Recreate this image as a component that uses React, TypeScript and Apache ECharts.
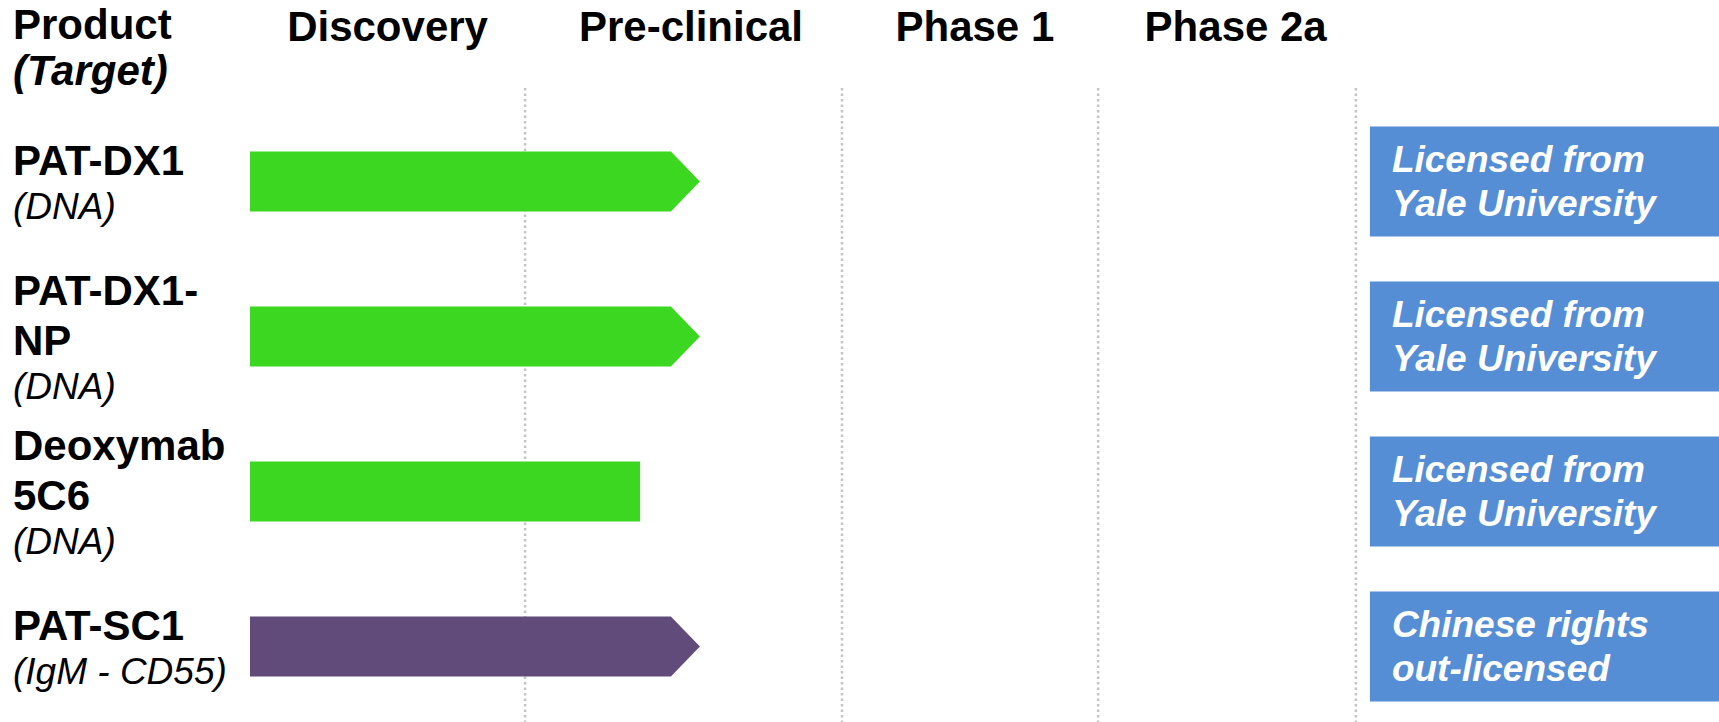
import React, { useEffect, useRef } from "react";
import * as echarts from "echarts";

// ---- data ----
const stages = ["Discovery", "Pre-clinical", "Phase 1", "Phase 2a"];
const stageLabelAt = [0.5, 1.603, 2.635, 3.583];
const stageBoundaries = [1.0, 2.152, 3.083, 4.02];
const axisMax = 5.34;

const headerTitle = "Product";
const headerSub = "(Target)";

const products = ["PAT-DX1", "PAT-DX1-NP", "Deoxymab 5C6", "PAT-SC1"];
const productLines = [["PAT-DX1"], ["PAT-DX1-", "NP"], ["Deoxymab", "5C6"], ["PAT-SC1"]];
const targets = ["(DNA)", "(DNA)", "(DNA)", "(IgM - CD55)"];
const progressStart = [0, 0, 0, 0];
const progressEnd = [1.53, 1.53, 1.418, 1.53];
const ongoing = [1, 1, 0, 1];
const programKind = [0, 0, 0, 1];

const notes = [
  "Licensed from\nYale University",
  "Licensed from\nYale University",
  "Licensed from\nYale University",
  "Chinese rights\nout-licensed",
];
const notesStart = 4.071;

// ---- styles ----
const FONT = '"Liberation Sans", Arial, Helvetica, sans-serif';
const KIND_COLORS = ["#3CD721", "#604B7A"];
const NOTE_COLOR = "#568ED5";
const TIP = 29;

export default function App() {
  const ref = useRef<HTMLDivElement>(null);

  useEffect(() => {
    if (!ref.current) return;
    const chart = echarts.init(ref.current, undefined, { renderer: "svg" });

    const barData = products.map((_, i) => [i, progressStart[i], progressEnd[i], ongoing[i], programKind[i]]);
    const lineData = stageBoundaries.map((v) => [v, 0]);
    const noteData = notes.map((_, i) => [notesStart, i]);

    const option: any = {
      animation: false,
      backgroundColor: "#ffffff",
      textStyle: { fontFamily: FONT },
      grid: { left: 250, right: 0, top: 104, height: 620, outerBoundsMode: "none" },
      xAxis: {
        type: "value",
        position: "top",
        min: 0,
        max: axisMax,
        splitLine: { show: false },
        axisLine: { show: false },
        axisTick: { show: false },
        axisLabel: {
          customValues: stageLabelAt,
          margin: 78,
          verticalAlign: "middle",
          color: "#000",
          fontFamily: FONT,
          fontSize: 42,
          fontWeight: "bold",
          formatter: (v: number) => {
            let best = 0;
            stageLabelAt.forEach((s, i) => {
              if (Math.abs(s - v) < Math.abs(stageLabelAt[best] - v)) best = i;
            });
            return stages[best];
          },
        },
      },
      yAxis: {
        type: "category",
        inverse: true,
        data: products,
        axisLine: { show: false },
        axisTick: { show: false },
        splitLine: { show: false },
        axisLabel: {
          interval: 0,
          align: "left",
          margin: 237,
          formatter: (_: string, idx: number) =>
            productLines[idx].map((l) => `{b|${l}}`).join("\n") + `\n{i|${targets[idx]}}`,
          rich: {
            b: { fontFamily: FONT, fontSize: 42, fontWeight: "bold", color: "#000", lineHeight: 50 },
            i: { fontFamily: FONT, fontSize: 37, fontStyle: "italic", color: "#000", lineHeight: 42 },
          },
        },
      },
      graphic: [
        {
          type: "text",
          left: 13,
          top: 3,
          style: {
            text: `{b|${headerTitle}}\n{bi|${headerSub}}`,
            rich: {
              b: { fontFamily: FONT, fontSize: 42, fontWeight: "bold", fill: "#000", lineHeight: 46 },
              bi: { fontFamily: FONT, fontSize: 42, fontWeight: "bold", fontStyle: "italic", fill: "#000", lineHeight: 46 },
            },
          },
        },
      ],
      series: [
        {
          type: "custom",
          name: "stages",
          data: lineData,
          encode: { x: 0, y: 1 },
          silent: true,
          z: 1,
          renderItem: (params: any, api: any) => {
            const x = api.coord([api.value(0), 0])[0];
            const cs = params.coordSys;
            return {
              type: "line",
              shape: { x1: x, y1: cs.y - 16, x2: x, y2: cs.y + cs.height },
              style: { stroke: "#C4C4C4", lineWidth: 2.5, lineDash: [2.5, 3] },
            };
          },
        },
        {
          type: "custom",
          name: "progress",
          data: barData,
          encode: { x: [1, 2], y: 0 },
          z: 2,
          renderItem: (params: any, api: any) => {
            const row = api.value(0);
            const s = api.coord([api.value(1), row]);
            const e = api.coord([api.value(2), row]);
            const band = api.size([0, 1])[1];
            const h = band * 0.387;
            const top = s[1] - h / 2;
            const bot = s[1] + h / 2;
            const pts = api.value(3)
              ? [[s[0], top], [e[0], top], [e[0] + TIP, s[1]], [e[0], bot], [s[0], bot]]
              : [[s[0], top], [e[0], top], [e[0], bot], [s[0], bot]];
            return {
              type: "polygon",
              shape: { points: pts },
              style: { fill: KIND_COLORS[api.value(4)] },
            };
          },
        },
        {
          type: "custom",
          name: "notes",
          data: noteData,
          encode: { x: 0, y: 1 },
          z: 3,
          renderItem: (params: any, api: any) => {
            const row = api.value(1);
            const p = api.coord([api.value(0), row]);
            const cs = params.coordSys;
            const band = api.size([0, 1])[1];
            const h = band * 0.71;
            const w = cs.x + cs.width - p[0];
            return {
              type: "group",
              children: [
                {
                  type: "rect",
                  shape: { x: p[0], y: p[1] - h / 2, width: w, height: h },
                  style: { fill: NOTE_COLOR },
                },
                {
                  type: "text",
                  style: {
                    text: notes[params.dataIndex],
                    x: p[0] + 22,
                    y: p[1],
                    verticalAlign: "middle",
                    align: "left",
                    fill: "#ffffff",
                    fontFamily: FONT,
                    fontSize: 37,
                    fontWeight: "bold",
                    fontStyle: "italic",
                    lineHeight: 44,
                  },
                },
              ],
            };
          },
        },
      ],
    };

    chart.setOption(option);
    return () => chart.dispose();
  }, []);

  return (
    <div
      ref={ref}
      style={{ position: "fixed", left: 0, top: 0, width: 1719, height: 722, background: "#fff" }}
    />
  );
}
